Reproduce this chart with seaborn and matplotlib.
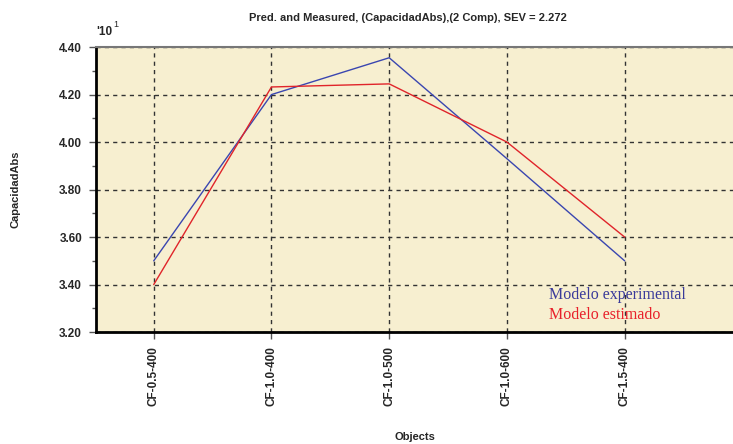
import pandas as pd
import seaborn as sns
import matplotlib.pyplot as plt
from matplotlib.ticker import MultipleLocator

# Data (values in units of 10^1)
objects = ["CF-0.5-400", "CF-1.0-400", "CF-1.0-500", "CF-1.0-600", "CF-1.5-400"]
measured = [3.50, 4.20, 4.355, 3.93, 3.50]
predicted = [3.40, 4.232, 4.245, 4.00, 3.60]

df = pd.DataFrame({
    "Objects": list(range(len(objects))) * 2,
    "CapacidadAbs": measured + predicted,
    "Serie": ["Modelo experimental"] * len(objects) + ["Modelo estimado"] * len(objects),
})

sns.set_style("white")
plt.rcParams["font.family"] = ["Liberation Sans", "DejaVu Sans"]

fig = plt.figure(figsize=(7.33, 4.44), dpi=100)
ax = fig.add_axes([0.131, 0.252, 0.869, 0.642])
ax.set_facecolor("#f7efd0")

palette = {"Modelo experimental": "#3a46b0", "Modelo estimado": "#e0242a"}
sns.lineplot(data=df, x="Objects", y="CapacidadAbs", hue="Serie", palette=palette,
             linewidth=1.0, legend=False, ax=ax)

ax.set_xlim(-0.49, 4.92)
ax.set_ylim(3.20, 4.40)
ax.set_xticks(range(len(objects)))
ax.set_xticklabels(objects, rotation=90, fontsize=8.5, fontweight="bold")
ax.yaxis.set_major_locator(MultipleLocator(0.2))
ax.yaxis.set_minor_locator(MultipleLocator(0.1))
ax.set_yticklabels([f"{v:.2f}" for v in ax.get_yticks()], fontsize=8.5, fontweight="bold")
ax.tick_params(axis="both", which="major", direction="out", length=5, width=1, color="#555555",
               left=True, bottom=True, pad=5)
ax.tick_params(axis="y", which="minor", direction="out", length=3, width=1, color="#555555", left=True)

ax.grid(True, which="major", linestyle=(0, (3, 3)), color="#333333", linewidth=1.0)
ax.set_axisbelow(True)

for side in ["left", "bottom"]:
    ax.spines[side].set_color("black")
    ax.spines[side].set_linewidth(2)
ax.spines["top"].set_color("#777777")
ax.spines["top"].set_linewidth(1.5)
ax.spines["right"].set_visible(False)

ax.set_xlabel("Objects", fontsize=8, fontweight="bold", labelpad=19)
ax.set_ylabel("CapacidadAbs", fontsize=8, fontweight="bold", labelpad=28)
ax.set_title("Pred. and Measured, (CapacidadAbs),(2 Comp), SEV = 2.272",
             fontsize=8, fontweight="bold", pad=19, x=0.49)
ax.text(0.0, 1.032, "'10", transform=ax.transAxes,
        fontsize=8.5, fontweight="bold", ha="left", va="bottom")
ax.text(0.027, 1.062, "1", transform=ax.transAxes,
        fontsize=6.5, ha="left", va="bottom")

# legend as coloured text
ax.text(0.711, 0.115, "Modelo experimental", transform=ax.transAxes, color="#3a3a9a",
        family="Liberation Serif", fontsize=11.5)
ax.text(0.711, 0.045, "Modelo estimado", transform=ax.transAxes, color="#e8202a",
        family="Liberation Serif", fontsize=11.5)

fig.savefig("out.png", dpi=100)
